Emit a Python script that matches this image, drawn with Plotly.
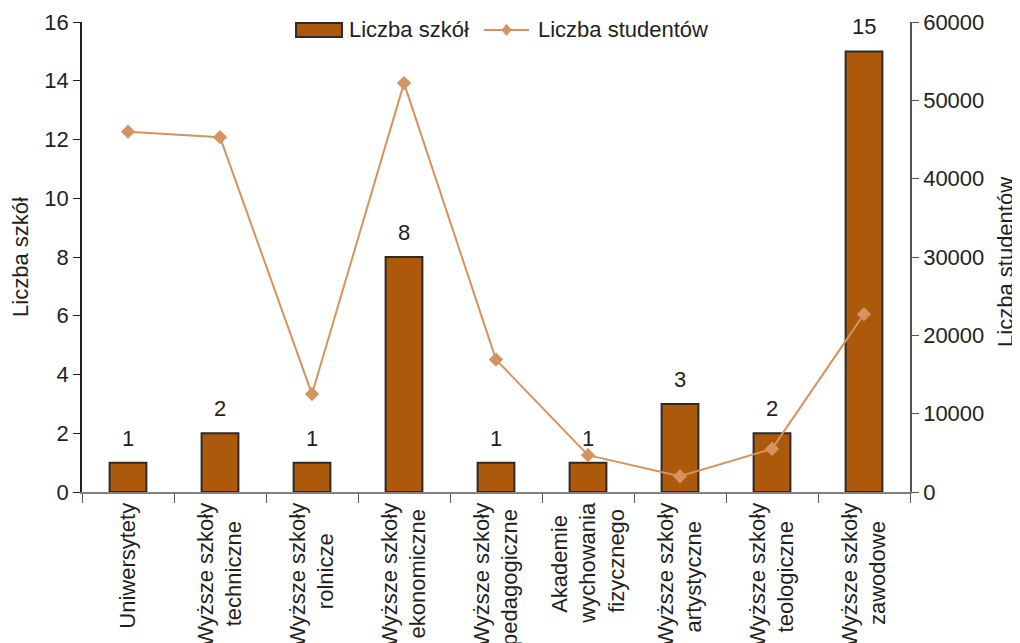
import plotly.graph_objects as go

# Kategorie szkół (niełamliwe spacje wyrównują wiersze do środka)
nb = "\u00a0"
kategorie = [
    "Uniwersytety",
    "Wyższe szkoły<br>techniczne" + nb * 3,
    "Wyższe szkoły<br>rolnicze" + nb * 5,
    "Wyższe szkoły<br>ekonomiczne" + nb * 1,
    "Wyższe szkoły<br>pedagogiczne" + nb * 1,
    "Akademie" + nb * 2 + "<br>wychowania<br>fizycznego" + nb * 1,
    "Wyższe szkoły<br>artystyczne" + nb * 3,
    "Wyższe szkoły<br>teologiczne" + nb * 3,
    "Wyższe szkoły<br>zawodowe" + nb * 3,
]
liczbaSzkol = [1, 2, 1, 8, 1, 1, 3, 2, 15]
liczbaStudentow = [46000, 45300, 12500, 52200, 16900, 4700, 2000, 5500, 22700]
nazwySerii = ["Liczba szkół", "Liczba studentów"]

barCol = "#AD590C"
lineCol = "#D4935F"
txtCol = "#231F20"
fnt = "Liberation Sans, Arial, sans-serif"
fs = 22

fig = go.Figure()
fig.add_trace(go.Bar(
    x=kategorie, y=liczbaSzkol, name=nazwySerii[0],
    marker=dict(color=barCol, line=dict(color="#2B2B2B", width=2)),
    width=0.4,
))
fig.add_trace(go.Scatter(
    x=kategorie, y=liczbaStudentow, name=nazwySerii[1], yaxis="y2",
    mode="lines+markers", line=dict(color=lineCol, width=2),
    marker=dict(symbol="diamond", size=11, color=lineCol),
))

# etykiety wartości nad słupkami
for k, v in zip(kategorie, liczbaSzkol):
    fig.add_annotation(x=k, y=v, xref="x", yref="y", text=str(v), showarrow=False,
                       yanchor="bottom", yshift=10, font=dict(size=fs, color=txtCol))

# legenda rysowana ręcznie (szeroki prostokąt jak w oryginale)
ly = 0.983
fig.add_shape(type="rect", xref="paper", yref="paper",
              x0=0.2585, x1=0.314, y0=ly - 0.015, y1=ly + 0.015,
              fillcolor=barCol, line=dict(color="#2B2B2B", width=2))
fig.add_annotation(x=0.3205, y=ly, xref="paper", yref="paper", text=nazwySerii[0],
                   showarrow=False, xanchor="left", yanchor="middle",
                   font=dict(size=fs, color=txtCol))
fig.add_shape(type="line", xref="paper", yref="paper",
              x0=0.4855, x1=0.54, y0=ly, y1=ly, line=dict(color=lineCol, width=2))
fig.add_shape(type="path", xref="paper", yref="paper",
              path=f"M 0.5065 {ly} L 0.5127 {ly + 0.0128} L 0.5189 {ly} L 0.5127 {ly - 0.0128} Z",
              fillcolor=lineCol, line=dict(color=lineCol, width=0))
fig.add_annotation(x=0.548, y=ly, xref="paper", yref="paper", text=nazwySerii[1],
                   showarrow=False, xanchor="left", yanchor="middle",
                   font=dict(size=fs, color=txtCol))

# tytuł prawej osi jako adnotacja (przy samej krawędzi)
fig.add_annotation(x=1.115, y=0.49, xref="paper", yref="paper", text=nazwySerii[1],
                   showarrow=False, textangle=-90, xanchor="center", yanchor="middle",
                   font=dict(size=fs, color=txtCol))

# strona ma 8 px marginesu body, stąd przesunięcie
fig.update_layout(
    width=1020, height=643,
    margin=dict(l=74, r=118, t=14, b=159),
    paper_bgcolor="white", plot_bgcolor="white",
    font=dict(family=fnt, size=fs, color=txtCol),
    showlegend=False,
    bargap=0.6,
    xaxis=dict(
        showline=True, linecolor="#808080", linewidth=2,
        ticks="outside", tickson="boundaries", ticklen=9, tickcolor="#555555",
        tickangle=-90, tickfont=dict(size=fs), automargin=False,
        showgrid=False, zeroline=False, range=[-0.5, 8.5],
    ),
    yaxis=dict(
        range=[0, 16], dtick=2, showline=True, linecolor="#231F20", linewidth=1.5,
        ticks="outside", ticklen=7, tickcolor="#231F20", showgrid=False, zeroline=False,
        title=dict(text=nazwySerii[0], font=dict(size=fs), standoff=12),
        tickfont=dict(size=fs), automargin=False,
    ),
    yaxis2=dict(
        range=[0, 60000], dtick=10000, tickformat="d", overlaying="y", side="right",
        showline=True, linecolor="#555555", linewidth=1.5,
        ticks="outside", ticklen=7, tickcolor="#555555", showgrid=False, zeroline=False,
        tickfont=dict(size=fs), automargin=False,
    ),
    yaxis3=dict(
        range=[0, 16], dtick=2, overlaying="y", side="left", showticklabels=False,
        ticks="inside", ticklen=7, tickcolor="#231F20", showgrid=False, zeroline=False,
        showline=False, automargin=False,
    ),
    yaxis4=dict(
        range=[0, 60000], dtick=10000, overlaying="y", side="right", showticklabels=False,
        ticks="inside", ticklen=7, tickcolor="#555555", showgrid=False, zeroline=False,
        showline=False, automargin=False,
    ),
)

fig.write_html("out.html")
